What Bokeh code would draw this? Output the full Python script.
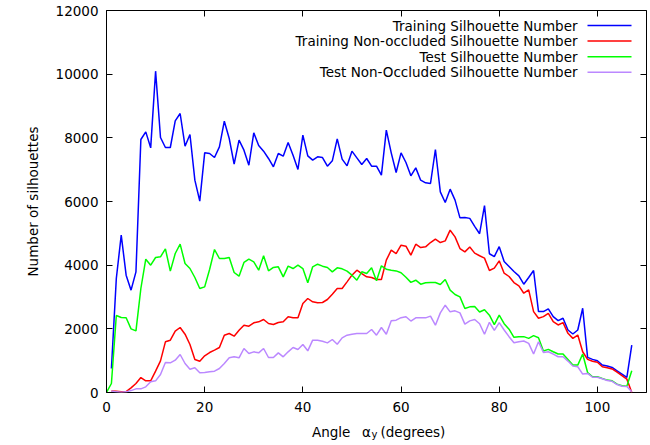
from bokeh.plotting import figure
from bokeh.layouts import column
from bokeh.models import Range1d, FixedTicker, LinearAxis, Label, Arrow
from bokeh.embed import file_html
from bokeh.resources import INLINE

NaN = float("nan")

# ---------------- data ----------------
angles = list(range(0, 108))

training = [NaN, 754, 3581, 4942, 3686, 3215, 3791, 7948, 8188, 7686,
            10094, 8010, 7696, 7696, 8534, 8764, 7738, 8105, 6670, 6010,
            7529, 7508, 7382, 7717, 8523, 7979, 7173, 7927, 7613, 7141,
            8157, 7759, 7581, 7351, 7089, 7508, 7424, 7853, 7455, 7005,
            8084, 7435, 7298, 7403, 7382, 7110, 7277, 7969, 7330, 7120,
            7581, 7372, 7162, 7351, 7110, 7110, 6827, 8241, 7529, 6911,
            7529, 7225, 6806, 7057, 6670, 6586, 6565, 7634, 6304, 5969,
            6387, 6042, 5487, 5497, 5470, 5220, 4988, 5870, 4358, 4270,
            4580, 4116, 3959, 3801, 3665, 3402, 3612, 3833, 2541, 2541,
            2625, 2384, 2258, 2331, 1964, 1838, 1964, 2646, 1103, 1040,
            998, 861, 830, 788, 683, 578, 473, 1491]

training_nonocc = [NaN, 50, 40, 20, 30, 146, 283, 471, 366, 366,
                   670, 995, 1592, 1644, 1927, 2042, 1832, 1508, 1037, 984,
                   1152, 1256, 1330, 1414, 1801, 1853, 1770, 1958, 2115, 2084,
                   2188, 2220, 2293, 2168, 2136, 2199, 2220, 2377, 2346, 2346,
                   2796, 2953, 2848, 2817, 2827, 2921, 3089, 3267, 3267, 3476,
                   3686, 3843, 3738, 3634, 3613, 3550, 3550, 4157, 4471, 4366,
                   4628, 4597, 4314, 4659, 4554, 4575, 4711, 4816, 4711, 4764,
                   5099, 4889, 4523, 4418, 4568, 4379, 4295, 4221, 3833, 3906,
                   4137, 3749, 3644, 3455, 3350, 3119, 3224, 2541, 2331, 2384,
                   2489, 2226, 2121, 2195, 1859, 1701, 1806, 1281, 1040, 980,
                   950, 810, 780, 740, 640, 530, 420, 0]

test = [0, 283, 2419, 2356, 2346, 2000, 1937, 3267, 4188, 4000,
        4241, 4262, 4513, 3812, 4366, 4660, 4052, 3895, 3613, 3267,
        3319, 3864, 4492, 4209, 4209, 4241, 3770, 3654, 4084, 4188,
        4105, 3843, 4293, 3822, 3927, 3948, 3634, 3969, 3895, 4000,
        3895, 3445, 3948, 4031, 3969, 3927, 3791, 3916, 3885, 3812,
        3686, 3529, 3791, 3738, 3916, 3508, 3979, 3874, 3843, 3820,
        3760, 3620, 3460, 3528, 3403, 3445, 3455, 3455, 3393, 3550,
        3215, 3079, 3005, 2639, 2691, 2700, 2530, 2600, 2430, 2130,
        2430, 2160, 1990, 1733, 1754, 1754, 1701, 1785, 1722, 1302,
        1355, 1281, 1208, 1208, 1040, 861, 861, 1208, 630, 494,
        494, 441, 389, 368, 263, 210, 200, 683]

test_nonocc = [NaN, 50, 20, 10, 20, 60, 115, 115, 178, 335,
               366, 565, 942, 932, 1016, 1194, 911, 733, 775, 618,
               628, 649, 670, 754, 911, 1089, 1120, 1089, 1382, 1225,
               1277, 1246, 1382, 1099, 1099, 1246, 1120, 1277, 1414, 1351,
               1508, 1309, 1644, 1644, 1612, 1560, 1665, 1518, 1717, 1801,
               1832, 1853, 1853, 1853, 1979, 1801, 2042, 1832, 2251, 2272,
               2350, 2380, 2245, 2345, 2345, 2345, 2398, 2115, 2502, 2743,
               2534, 2565, 2502, 2147, 2250, 2295, 2160, 1830, 2205, 1950,
               2195, 1964, 1754, 1565, 1596, 1617, 1544, 1208, 1596, 1260,
               1281, 1208, 1124, 1124, 987, 830, 809, 578, 599, 480,
               480, 430, 375, 350, 250, 195, 185, 21]

series_names = ["Training Silhouette Number",
                "Training Non-occluded Silhouette Number",
                "Test Silhouette Number",
                "Test Non-Occluded Silhouette Number"]
series_colors = ["#0000ff", "#ff0000", "#00ff00", "#bb88ff"]

x_ticks = [0, 20, 40, 60, 80, 100]
y_ticks = [0, 2000, 4000, 6000, 8000, 10000, 12000]

FONT = "DejaVu Sans"
FS = "13.5px"

W, H = 650, 420          # main figure; a 25px strip below holds the x-axis title
STRIP_H = 25
LEFT, RIGHT, TOP, BOTTOM = 106, 4, 10, 28
frame_w = W - LEFT - RIGHT
frame_h = H - TOP - BOTTOM

# ---------------- main figure ----------------
p = figure(width=W, height=H, x_range=Range1d(0, 110), y_range=Range1d(0, 12000),
           output_backend="svg", toolbar_location=None,
           min_border_left=LEFT, min_border_right=RIGHT,
           min_border_top=TOP, min_border_bottom=BOTTOM)
p.outline_line_color = "black"
p.outline_line_width = 1
p.xgrid.grid_line_color = None
p.ygrid.grid_line_color = None
p.background_fill_color = "white"
p.border_fill_color = "white"

for ys, c in zip([training, training_nonocc, test, test_nonocc], series_colors):
    p.line(angles, ys, line_color=c, line_width=1.5)

def style_axis(ax, show_labels, standoff):
    ax.axis_line_color = None
    ax.major_tick_in = 6
    ax.major_tick_out = 0
    ax.major_tick_line_color = "black"
    ax.major_tick_line_width = 1
    ax.minor_tick_line_color = None
    ax.major_label_text_font = FONT
    if show_labels:
        ax.major_label_text_color = "black"
        ax.major_label_text_font_size = FS
        ax.major_label_standoff = standoff
    else:
        ax.major_label_text_color = None
        ax.major_label_text_alpha = 0
        ax.major_label_text_font_size = "1px"
        ax.major_label_standoff = 0

xa = p.xaxis[0]
ya = p.yaxis[0]
xa.ticker = FixedTicker(ticks=x_ticks)
ya.ticker = FixedTicker(ticks=y_ticks)
style_axis(xa, True, 9)
style_axis(ya, True, 8)

ya.axis_label = "Number of silhouettes"
ya.axis_label_text_font = FONT
ya.axis_label_text_font_size = FS
ya.axis_label_text_font_style = "normal"
ya.axis_label_text_color = "black"
ya.axis_label_standoff = 12

top_ax = LinearAxis(ticker=FixedTicker(ticks=x_ticks))
right_ax = LinearAxis(ticker=FixedTicker(ticks=y_ticks))
style_axis(top_ax, False, 0)
style_axis(right_ax, False, 0)
p.add_layout(top_ax, "above")
p.add_layout(right_ax, "right")

lbl_kw = dict(x_units="screen", y_units="screen", text_font=FONT, text_color="black")

# legend (gnuplot style: text on the left, sample line on the right)
key_x0 = frame_w - 59
key_x1 = frame_w - 15
text_right = key_x0 - 10
for i, (name, c) in enumerate(zip(series_names, series_colors)):
    yy = frame_h - 15 - 15.6 * i
    p.add_layout(Label(x=text_right, y=yy, text=name, text_font_size=FS,
                       text_align="right", text_baseline="middle", **lbl_kw))
    p.add_layout(Arrow(x_start=key_x0, y_start=yy, x_end=key_x1, y_end=yy,
                       start_units="screen", end_units="screen",
                       start=None, end=None, line_color=c, line_width=1.5))

# ---------------- strip with the x-axis title (alpha with subscript y) ----------------
s = figure(width=W, height=STRIP_H, x_range=Range1d(0, 1), y_range=Range1d(0, 1),
           output_backend="svg", toolbar_location=None,
           min_border_left=0, min_border_right=0, min_border_top=0, min_border_bottom=0)
s.axis.visible = False
s.grid.visible = False
s.outline_line_color = None
s.background_fill_color = "white"
s.border_fill_color = "white"

# the strip's frame is aligned with the main frame (left edge at x = LEFT)
base = 14
s.add_layout(Label(x=205.5, y=base, text="Angle", text_font_size=FS,
                   text_align="left", text_baseline="alphabetic", **lbl_kw))
s.add_layout(Label(x=260, y=base, text="α", text_font_size=FS,
                   text_align="center", text_baseline="alphabetic", **lbl_kw))
s.add_layout(Label(x=265, y=base - 3, text="y", text_font_size="10px",
                   text_align="left", text_baseline="alphabetic", **lbl_kw))
s.add_layout(Label(x=274, y=base, text="(degrees)", text_font_size=FS,
                   text_align="left", text_baseline="alphabetic", **lbl_kw))

layout = column(p, s, spacing=0)
open("out.html", "w").write(file_html(layout, INLINE))
